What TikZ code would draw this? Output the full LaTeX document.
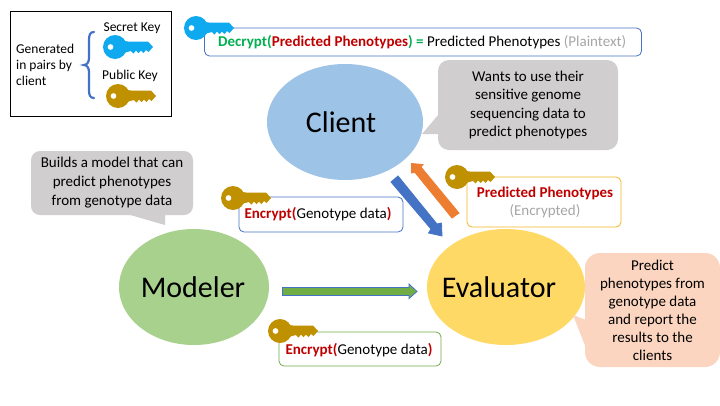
\documentclass[tikz,border=0pt]{standalone}
\usepackage{fontspec}
\setmainfont{Carlito}
\definecolor{keyblue}{HTML}{0FA9F0}
\definecolor{keygold}{HTML}{BF9000}
\definecolor{cblue}{HTML}{9DC3E6}
\definecolor{mgreen}{HTML}{A9D18E}
\definecolor{eyellow}{HTML}{FFD966}
\definecolor{grayc}{HTML}{D0CECE}
\definecolor{peach}{HTML}{FBD5C0}
\definecolor{dred}{HTML}{C00000}
\definecolor{dgreen}{HTML}{00B050}
\definecolor{lblue}{HTML}{4472C4}
\definecolor{lgreen}{HTML}{70AD47}
\definecolor{lgold}{HTML}{F2B824}
\definecolor{lorange}{HTML}{ED7D31}
\definecolor{gtext}{HTML}{A6A6A6}
\tikzset{
  x=1pt,y=-1pt,
  keyicon/.pic={
    \fill[pic actions,even odd rule]
      (0,0) circle[radius=12]
      (-4.5,0) circle[radius=3]
      ;
    \fill[pic actions] (6,-8) .. controls (9,-6) and (10,-5.5) .. (13,-5.5) -- (33,-5.5) -- (38,0) -- (33.5,5) -- (31,3) -- (28.5,6) -- (26,3.5) -- (23.5,6) -- (21,3.5) -- (18.5,6.5) -- (16,4) -- (12,5) .. controls (10,5.5) and (9,6) .. (6,8) -- cycle;
  },
  txt/.style={font=\fontsize{15}{18.4}\selectfont,align=center,inner sep=0pt},
  lab/.style={font=\fontsize{15}{18}\selectfont,inner sep=0pt},
  legt/.style={font=\fontsize{13.5}{16}\selectfont,inner sep=0pt},
  bigt/.style={font=\fontsize{30}{34}\selectfont,inner sep=0pt},
  tagbox/.style={draw,rounded corners=5pt,fill=white,line width=0.8pt},
  blockarrow/.style={line width=0.8pt},
}
\newcommand{\rd}[1]{\textcolor{dred}{\textbf{#1}}}
\newcommand{\gn}[1]{\textcolor{dgreen}{\textbf{#1}}}
\begin{document}
\begin{tikzpicture}
\useasboundingbox (0,0) rectangle (720,405);
\fill[white] (0,0) rectangle (720,405);
% legend
\draw[black,line width=0.9pt] (10.5,11.5) rectangle (171.5,116);
\node[legt,align=left,anchor=west] (gen) at (16,65) {Generated\\in pairs by\\client};
\draw[lblue,line width=2.2pt,line cap=round] (94,32) .. controls (90,32) and (89,35) .. (89,40) -- (89,58) .. controls (89,62) and (87,65) .. (84,65) .. controls (87,65) and (89,68) .. (89,72) -- (89,90) .. controls (89,95) and (90,98) .. (94,98);
\node[legt] (sk) at (132,28) {Secret Key};
\node[legt] (pk) at (130,76) {Public Key};
\pic[keyblue] at (115,47) {keyicon};
\pic[keygold] at (118,96) {keyicon};
% ellipses
\fill[cblue] (345,122) ellipse[x radius=78,y radius=58];
\fill[mgreen] (194,287) ellipse[x radius=75,y radius=58];
\fill[eyellow] (506,287) ellipse[x radius=79,y radius=58];
\node[bigt] (client) at (341,122) {Client};
\node[bigt] (modeler) at (193,287) {Modeler};
\node[bigt] (evaluator) at (499,287) {Evaluator};
% callouts
\fill[grayc,rounded corners=11pt] (438,60) rectangle (618,150);
\fill[grayc] (439,114) -- (422,134) -- (439,134) -- cycle;
\node[txt] at (528,105) {Wants to use their\\sensitive genome\\sequencing data to\\predict phenotypes};
\fill[grayc,rounded corners=9pt] (31,151) rectangle (193,215);
\fill[grayc] (127,214) -- (165,225) -- (165,214) -- cycle;
\node[txt,font=\fontsize{15}{19}\selectfont] at (112,183) {Builds a model that can\\predict phenotypes\\from genotype data};
\fill[peach,rounded corners=15pt] (585,253) rectangle (720,367);
\fill[peach] (586,320) -- (573,315) -- (586,348) -- cycle;
\node[txt,font=\fontsize{15}{18}\selectfont] at (652.5,310) {Predict\\phenotypes from\\genotype data\\and report the\\results to the\\clients};
% top label
\node[tagbox,draw=lblue,minimum width=437pt,minimum height=28pt,inner sep=0pt] (dec) at (423,42) {};
\node[lab,anchor=west] at (218,42.5) {\gn{Decrypt(}\rd{Predicted Phenotypes}\gn{)} \gn{=} Predicted Phenotypes \textcolor{gtext}{(Plaintext)}};
\pic[keyblue] at (196,28) {keyicon};
% arrows
\draw[blockarrow,draw=lblue,fill=lblue] (391,182) -- (398,176) -- (437,224) -- (441.5,223) -- (442,236) -- (428.5,233) -- (431,229) -- cycle;
\draw[blockarrow,draw=lorange,fill=lorange] (452,218) -- (415,172.5) -- (411.5,173) -- (411.5,163.5) -- (423,164.5) -- (421,167) -- (459,213) -- cycle;
\draw[blockarrow,draw=lblue,fill=lgreen] (282.5,287.5) -- (409,287.5) -- (409,284) -- (417,291.5) -- (409,298.5) -- (409,295.5) -- (282.5,295.5) -- cycle;
% Predicted phenotype box
\node[tagbox,draw=lgold,minimum width=154pt,minimum height=50pt,inner sep=0pt] (pp) at (544,202) {};
\node[lab,align=center,font=\fontsize{15}{18.5}\selectfont] at (545,202.5) {\rd{Predicted Phenotypes}\\\textcolor{gtext}{(Encrypted)}};
\pic[keygold] at (457,177) {keyicon};
% Encrypt boxes
\node[tagbox,draw=lblue,minimum width=164pt,minimum height=35pt,inner sep=0pt] (e1) at (321,214.5) {};
\node[lab] at (318,214.5) {\rd{Encrypt(}Genotype data\rd{)}};
\pic[keygold] at (233,198) {keyicon};
\node[tagbox,draw=lgreen,minimum width=162pt,minimum height=34pt,inner sep=0pt] (e2) at (360,349) {};
\node[lab] at (359,350) {\rd{Encrypt(}Genotype data\rd{)}};
\pic[keygold] at (280,331) {keyicon};
\end{tikzpicture}
\end{document}
